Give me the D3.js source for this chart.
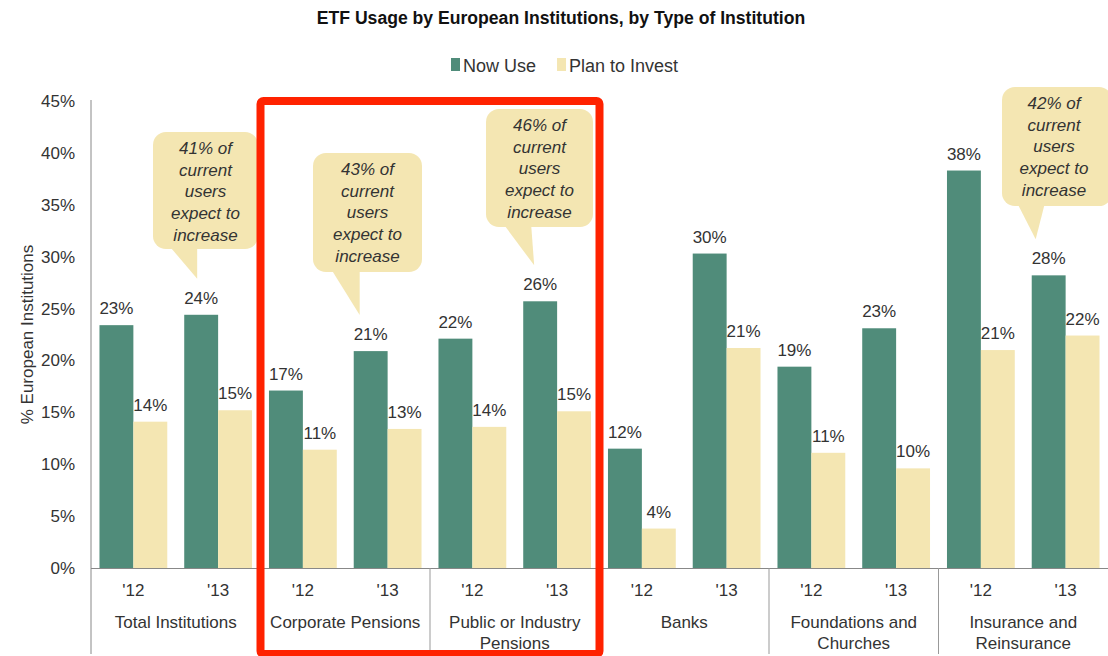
<body>
<script src="https://d3js.org/d3.v7.min.js"></script>
<style>
  body { margin: 0; background: #fff; }
  * { font-family: "Liberation Sans", Arial, sans-serif; }
  .lbl { font-size: 17px; fill: #333; }
  .note { font-size: 17px; font-style: italic; fill: #333; }
</style>
<script>
  // data
  var groups = ["Total Institutions", "Corporate Pensions", "Public or Industry|Pensions",
                "Banks", "Foundations and|Churches", "Insurance and|Reinsurance"];
  var years = ["'12", "'13"];
  var series = ["Now Use", "Plan to Invest"];
  var nowUse = [[23.4, 24.4], [17.1, 20.9], [22.1, 25.7], [11.5, 30.3], [19.4, 23.1], [38.3, 28.2]];
  var planInvest = [[14.1, 15.2], [11.4, 13.4], [13.6, 15.1], [3.8, 21.2], [11.1, 9.6], [21.0, 22.4]];
  var nowLabels = [["23%", "24%"], ["17%", "21%"], ["22%", "26%"], ["12%", "30%"], ["19%", "23%"], ["38%", "28%"]];
  var planLabels = [["14%", "15%"], ["11%", "13%"], ["14%", "15%"], ["4%", "21%"], ["11%", "10%"], ["21%", "22%"]];
  var yTicks = [0, 5, 10, 15, 20, 25, 30, 35, 40, 45];
  var colors = ["#508c7a", "#f4e6b2"];

  // callouts: which bar they point at, and where the box sits
  var callouts = [
    {group: 0, year: 1, text: ["41% of", "current", "users", "expect to", "increase"], box: [153, 132, 105, 117], tail: [-31, -4, -4]},
    {group: 1, year: 1, text: ["43% of", "current", "users", "expect to", "increase"], box: [313, 153, 109, 119], tail: [-39, -11, -11]},
    {group: 2, year: 1, text: ["46% of", "current", "users", "expect to", "increase"], box: [486, 109, 107, 118], tail: [-36, -9, -6]},
    {group: 5, year: 1, text: ["42% of", "current", "users", "expect to", "increase"], box: [1002, 87, 110, 119], tail: [-31, -4, -13]}
  ];

  var W = 1108, H = 656;
  var mLeft = 91, mRight = 1108, mTop = 101, mBottom = 568;

  var svg = d3.select("body").append("svg").attr("width", W).attr("height", H);

  var x0 = d3.scaleBand().domain(d3.range(groups.length)).range([mLeft, mRight]);
  var x1 = d3.scaleBand().domain(d3.range(years.length)).range([0, x0.bandwidth()])
    .paddingInner(0.2).paddingOuter(0.1);
  var x2 = d3.scaleBand().domain(d3.range(series.length)).range([0, x1.bandwidth()]);
  var y = d3.scaleLinear().domain([0, 45]).range([mBottom, mTop]);

  // title
  svg.append("text").attr("x", 561).attr("y", 24).attr("text-anchor", "middle")
    .style("font-weight", "bold").style("font-size", "17.6px").style("fill", "#111")
    .text("ETF Usage by European Institutions, by Type of Institution");

  // legend
  var lg = svg.append("g").attr("transform", "translate(451,58)");
  var lx = 0;
  series.forEach(function(s, i) {
    lg.append("rect").attr("x", lx).attr("y", 0).attr("width", 9).attr("height", 13).attr("fill", colors[i]);
    var t = lg.append("text").attr("class", "lbl").style("font-size", "18px").attr("x", lx + 12).attr("y", 13.5).text(s);
    lx += 12 + t.node().getComputedTextLength() + 21;
  });

  // y axis
  var yAxis = svg.append("g").attr("transform", "translate(" + mLeft + ",0)")
    .call(d3.axisLeft(y).tickValues(yTicks).tickSize(0).tickPadding(16).tickFormat(function(d) { return d + "%"; }));
  yAxis.select(".domain").remove();
  yAxis.selectAll("text").attr("class", "lbl").attr("font-family", null).attr("font-size", null).attr("fill", null);

  svg.append("line").attr("x1", mLeft).attr("x2", mLeft).attr("y1", mTop - 1).attr("y2", 654)
    .attr("stroke", "#888").attr("stroke-width", 1);
  svg.append("line").attr("x1", mLeft).attr("x2", mRight).attr("y1", mBottom + 0.5).attr("y2", mBottom + 0.5)
    .attr("stroke", "#888").attr("stroke-width", 1.2);

  svg.append("text").attr("class", "lbl")
    .attr("transform", "translate(33," + (mTop + mBottom) / 2 + ") rotate(-90)")
    .attr("text-anchor", "middle").text("% European Institutions");

  // group dividers
  d3.range(1, groups.length).forEach(function(g) {
    svg.append("line").attr("x1", x0(g)).attr("x2", x0(g)).attr("y1", mBottom).attr("y2", 654)
      .attr("stroke", "#999").attr("stroke-width", 1);
  });

  // bars
  groups.forEach(function(gname, g) {
    var gx = x0(g);
    years.forEach(function(yr, k) {
      var bx = gx + x1(k);
      [nowUse[g][k], planInvest[g][k]].forEach(function(v, s) {
        svg.append("rect").attr("x", bx + x2(s)).attr("y", y(v))
          .attr("width", x2.bandwidth()).attr("height", y(0) - y(v))
          .attr("fill", colors[s]);
        svg.append("text").attr("class", "lbl").attr("text-anchor", "middle")
          .attr("x", bx + x2(s) + x2.bandwidth() / 2).attr("y", y(v) - 11)
          .text(s === 0 ? nowLabels[g][k] : planLabels[g][k]);
      });
      svg.append("text").attr("class", "lbl").attr("text-anchor", "middle")
        .attr("x", bx + x1.bandwidth() / 2).attr("y", 596).text(yr);
    });
    gname.split("|").forEach(function(line, li) {
      svg.append("text").attr("class", "lbl").attr("text-anchor", "middle")
        .attr("x", gx + x0.bandwidth() / 2).attr("y", 628 + li * 21).text(line);
    });
  });

  // callouts
  callouts.forEach(function(c) {
    var bx = x0(c.group) + x1(c.year) + x2(0) + x2.bandwidth() / 2;
    var tipX = bx + c.tail[2], tipY = y(nowUse[c.group][c.year]) - 36;
    var b = c.box;
    svg.append("path")
      .attr("d", "M" + (bx + c.tail[0]) + "," + (b[1] + b[3] - 2) + "L" + tipX + "," + tipY +
        "L" + (bx + c.tail[1]) + "," + (b[1] + b[3] - 2) + "Z")
      .attr("fill", colors[1]);
    svg.append("rect").attr("x", b[0]).attr("y", b[1]).attr("width", b[2]).attr("height", b[3])
      .attr("rx", 13).attr("fill", colors[1]);
    c.text.forEach(function(t, i) {
      svg.append("text").attr("class", "note").attr("text-anchor", "middle")
        .attr("x", b[0] + b[2] / 2 + (b[0] + b[2] > W ? -3 : 0)).attr("y", b[1] + 22 + i * 21.7).text(t);
    });
  });

  // red highlight frame round the pension groups
  svg.append("rect").attr("x", x0(1)).attr("y", 101)
    .attr("width", x0(3) - x0(1)).attr("height", 553)
    .attr("rx", 3).attr("fill", "none").attr("stroke", "#ff2200").attr("stroke-width", 8);
</script>
</body>
